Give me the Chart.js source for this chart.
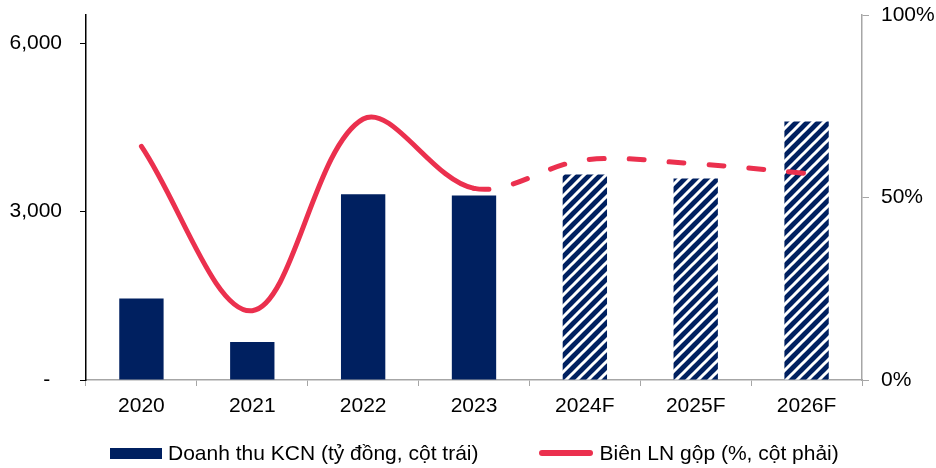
<!DOCTYPE html>
<html>
<head>
<meta charset="utf-8">
<script src="https://cdn.jsdelivr.net/npm/chart.js@4"></script>
<style>
  body { margin: 0; background: #fff; }
  #wrap { position: relative; width: 936px; height: 468px; }
  #legend { position: absolute; left: 110px; top: 438px; height: 30px; display: flex; align-items: center;
            font: 21px 'Liberation Sans', Arial, sans-serif; color: #000; white-space: nowrap; }
  #legend .item { display: flex; align-items: center; }
  #legend .item + .item { margin-left: 61px; }
  #legend .swatch { margin-right: 6px; }
</style>
</head>
<body>
<div id="wrap">
  <canvas id="chart" width="936" height="468"></canvas>
  <div id="legend"></div>
</div>
<script>
const years = ['2020', '2021', '2022', '2023', '2024F', '2025F', '2026F'];
const revenue = [1450, 675, 3310, 3285, 3660, 3590, 4605]; // tỷ đồng, left axis
const grossMargin = [64, 19, 71.5, 52.5, 60.3, 59.2, 56.6]; // %, right axis
const leftTicks = [0, 3000, 6000];
const forecastFrom = 4; // first forecast column (hatched)

const navy = '#002060';
const red = '#EB304E';
const FONT = 'Liberation Sans, Arial, sans-serif';

// diagonal stripe fill for forecast bars
function makeHatch() {
  const c = document.createElement('canvas');
  c.width = 11; c.height = 11;
  const g = c.getContext('2d');
  g.fillStyle = navy;
  g.fillRect(0, 0, 11, 11);
  g.strokeStyle = '#fff';
  g.lineWidth = 3;
  g.beginPath();
  g.moveTo(-2, 13); g.lineTo(13, -2);
  g.moveTo(-2, 2); g.lineTo(2, -2);
  g.moveTo(9, 13); g.lineTo(13, 9);
  g.stroke();
  return g.createPattern(c, 'repeat');
}
const hatch = makeHatch();

// keep the plot top at the layout padding (tick padding would push it down)
const trimPad = s => { s.paddingTop = 12; s.paddingBottom = 12; };

const ctx = document.getElementById('chart').getContext('2d');

const chart = new Chart(ctx, {
  type: 'bar',
  data: {
    labels: years,
    datasets: [
      {
        type: 'bar',
        label: 'Doanh thu KCN (tỷ đồng, cột trái)',
        data: revenue,
        yAxisID: 'y',
        backgroundColor: revenue.map((v, i) => i >= forecastFrom ? hatch : navy),
        borderWidth: 0,
        barPercentage: 0.4,
        categoryPercentage: 1,
        order: 2
      },
      {
        type: 'line',
        label: 'Biên LN gộp (%, cột phải)',
        data: grossMargin,
        yAxisID: 'y1',
        borderColor: red,
        borderWidth: 5,
        borderCapStyle: 'round',
        tension: 0.35,
        pointRadius: 0,
        fill: false,
        segment: {
          borderDash: c => c.p0DataIndex >= 3 ? [15, 25] : undefined
        },
        order: 1
      }
    ]
  },
  options: {
    responsive: false,
    animation: false,
    layout: { padding: { top: 15, left: 0, right: 0, bottom: 48 } },
    plugins: {
      tooltip: { enabled: false },
      legend: { display: false }
    },
    scales: {
      x: {
        grid: { offset: true, drawOnChartArea: false, drawTicks: true, tickLength: 6, color: '#a6a6a6' },
        border: { color: '#a6a6a6', width: 1.5 },
        ticks: { font: { family: FONT, size: 21 }, color: '#000', padding: 8 },
        afterFit: s => { s.height = 40; }
      },
      y: {
        position: 'left',
        min: 0,
        max: 6500,
        afterBuildTicks: s => { s.ticks = leftTicks.map(v => ({ value: v })); },
        grid: { drawOnChartArea: false, tickLength: 6, color: '#000' },
        border: { color: '#000', width: 1.5 },
        ticks: {
          font: { family: FONT, size: 21 },
          color: '#000',
          padding: 18,
          callback: v => v === 0 ? '-  ' : v.toLocaleString('en-US')
        },
        afterFit: s => { s.width = 86; trimPad(s); }
      },
      y1: {
        position: 'right',
        min: 0,
        max: 100,
        grid: { drawOnChartArea: false, tickLength: 7, color: '#a6a6a6' },
        border: { color: '#a6a6a6', width: 1.5 },
        ticks: {
          stepSize: 50,
          font: { family: FONT, size: 21 },
          color: '#000',
          padding: 12,
          callback: v => v + '%'
        },
        afterFit: s => { s.width = 74; trimPad(s); }
      }
    }
  }
});

// legend under the axis, built from the datasets
const legendEl = document.getElementById('legend');
chart.data.datasets.forEach(ds => {
  const item = document.createElement('div');
  item.className = 'item';
  const sw = document.createElement('span');
  sw.className = 'swatch';
  if (ds.type === 'line') {
    sw.style.cssText = `width:54px;height:6px;border-radius:3px;background:${ds.borderColor}`;
  } else {
    sw.style.cssText = `width:52px;height:11px;background:${navy}`;
  }
  const txt = document.createElement('span');
  txt.textContent = ds.label;
  item.appendChild(sw);
  item.appendChild(txt);
  legendEl.appendChild(item);
});
</script>
</body>
</html>
